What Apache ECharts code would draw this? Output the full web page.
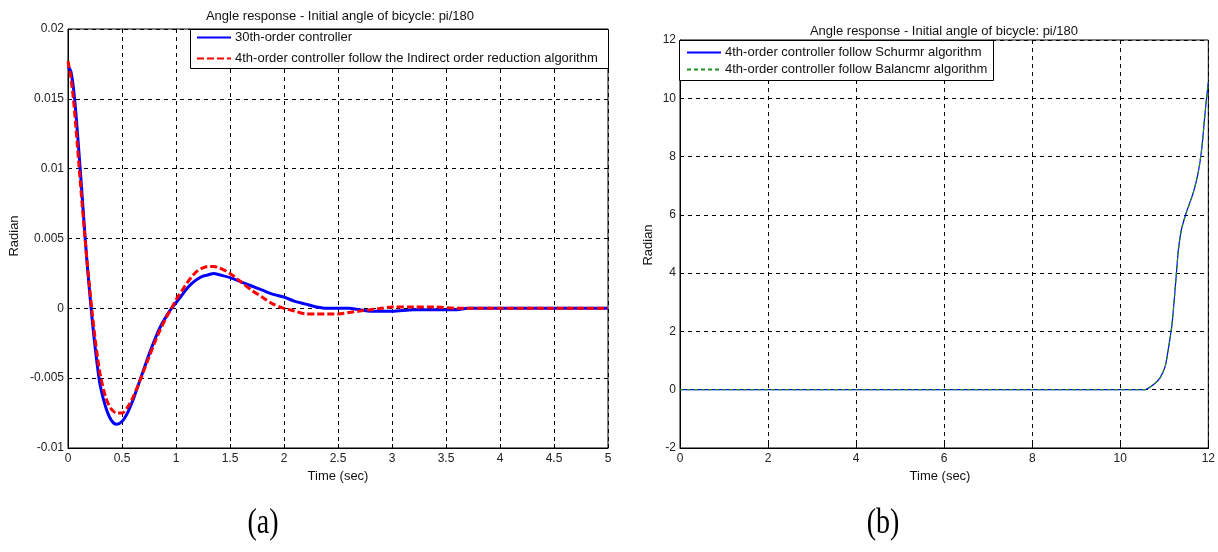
<!DOCTYPE html>
<html>
<head>
<meta charset="utf-8">
<script src="https://cdn.jsdelivr.net/npm/echarts@6/dist/echarts.min.js"></script>
<style>
html,body{margin:0;padding:0;background:#fff;}
#c{width:1218px;height:552px;}
</style>
</head>
<body>
<div id="c"></div>
<script>
// ---------- Data (a) ----------
const titleText = 'Angle response - Initial angle of bicycle: pi/180';
const seriesNamesA = ['30th-order controller', '4th-order controller follow the Indirect order reduction algorithm'];
const seriesNamesB = ['4th-order controller follow Schurmr algorithm', '4th-order controller follow Balancmr algorithm'];

const tA = [0,0.025,0.05,0.075,0.1,0.125,0.15,0.175,0.2,0.225,0.25,0.275,0.3,0.35,0.4,0.45,0.5,0.55,0.6,0.65,0.7,0.75,0.8,0.85,0.9,0.95,1.0,1.05,1.1,1.15,1.2,1.25,1.3,1.35,1.4,1.5,1.6,1.7,1.8,1.9,2.0,2.1,2.2,2.3,2.4,2.5,2.6,2.7,2.8,2.9,3.0,3.2,3.4,3.6,3.7,4.0,4.5,5.0];
const blueA = [0.0173,0.0170,0.0158,0.0138,0.0113,0.0087,0.0060,0.0034,0.0012,-0.0009,-0.0027,-0.0043,-0.0056,-0.0071,-0.0080,-0.0083,-0.0081,-0.0075,-0.0066,-0.0055,-0.0044,-0.0033,-0.0023,-0.0014,-0.0007,-0.0001,0.0004,0.0009,0.0014,0.0018,0.0021,0.0023,0.0024,0.0025,0.0024,0.0022,0.0019,0.0016,0.0013,0.0010,0.0008,0.0005,0.0003,0.0001,0.0000,0.0000,0.0000,-0.0001,-0.0002,-0.0002,-0.0002,-0.0001,-0.0001,-0.0001,0,0,0,0];
const redA = [0.0177,0.0166,0.0150,0.0128,0.0104,0.0080,0.0057,0.0035,0.0015,-0.0004,-0.0021,-0.0036,-0.0048,-0.0064,-0.0072,-0.0075,-0.0075,-0.0071,-0.0064,-0.0055,-0.0045,-0.0035,-0.0025,-0.0016,-0.0008,-0.0001,0.0006,0.0012,0.0018,0.0023,0.0027,0.0029,0.0030,0.0030,0.0029,0.0025,0.0019,0.0013,0.0008,0.0003,0.0000,-0.0002,-0.0004,-0.0004,-0.0004,-0.0004,-0.0003,-0.0002,-0.0001,0.0000,0.0001,0.0001,0.0001,0.0000,0,0,0,0];

// ---------- Data (b) ----------
const tB = [0,1,2,3,4,5,6,7,8,9,10,10.56,10.75,10.9,11.02,11.09,11.17,11.22,11.27,11.32,11.39,11.5,11.66,11.77,11.85,11.92,11.96,12];
const blueB = [0,0,0,0,0,0,0,0,0,0,0,0,0.17,0.4,0.8,1.38,2.18,2.98,3.9,4.8,5.5,6.08,6.77,7.45,8.26,9.4,10.0,10.55];
const greenB = [0,0,0,0,0,0,0,0,0,0,0,0,0.17,0.4,0.8,1.38,2.18,2.98,3.9,4.8,5.5,6.08,6.77,7.45,8.26,9.4,10.0,10.55];

const xTicksA = {min:0, max:5, interval:0.5};
const yTicksA = {min:-0.01, max:0.02, interval:0.005};
const xTicksB = {min:0, max:12, interval:2};
const yTicksB = {min:-2, max:12, interval:2};

function pairs(xs, ys){ return xs.map((x,i)=>[x, ys[i]]); }

const FONT = '"Liberation Sans", Arial, sans-serif';
const TXT = 13;
const labelStyle = {color:'#222', fontSize:12, fontFamily:FONT};
const gridLine = {show:true, lineStyle:{color:'#000', type:[4,4], width:1}};

function axis(idx, t, isX){
  return {type:'value', gridIndex:idx, min:t.min, max:t.max, interval:t.interval,
    axisLine:{show:true, onZero:false, lineStyle:{color:'#000', width:1}},
    axisTick:{show:true, inside:true, length:4, lineStyle:{color:'#000'}},
    axisLabel:Object.assign({margin:isX ? 5 : 4}, labelStyle),
    splitLine:gridLine};
}

function legendItem(name, left, centerY){
  return {data:[name], orient:'vertical', left:left, top:centerY - 7, itemWidth:34, itemHeight:14,
    itemStyle:{opacity:0}, selectedMode:false, padding:0, z:10,
    textStyle:{color:'#111', fontSize:TXT, fontFamily:FONT, padding:[0,0,0,-1]}};
}

const chart = echarts.init(document.getElementById('c'), null, {renderer:'canvas'});
chart.setOption({
  backgroundColor:'#fff',
  animation:false,
  grid:[
    {left:68, top:29, width:540, height:419, show:true, borderColor:'#000', borderWidth:1, backgroundColor:'#fff'},
    {left:680, top:40, width:531, height:408, show:true, borderColor:'#000', borderWidth:1, backgroundColor:'#fff'}
  ],
  xAxis:[axis(0,xTicksA,true), axis(1,xTicksB,true)],
  yAxis:[axis(0,yTicksA,false), axis(1,yTicksB,false)],
  legend:[
    legendItem(seriesNamesA[0], 196, 38),
    legendItem(seriesNamesA[1], 196, 59),
    legendItem(seriesNamesB[0], 686, 53),
    legendItem(seriesNamesB[1], 686, 70)
  ],
  series:[
    {name:seriesNamesA[0], type:'line', xAxisIndex:0, yAxisIndex:0, data:pairs(tA,blueA), smooth:0.3, symbol:'none',
     lineStyle:{color:'#0000ff', width:3, type:'solid'}, itemStyle:{color:'#0000ff'}, z:3},
    {name:seriesNamesA[1], type:'line', xAxisIndex:0, yAxisIndex:0, data:pairs(tA,redA), smooth:0.3, symbol:'none',
     lineStyle:{color:'#ff0000', width:3, type:[7,3]}, itemStyle:{color:'#ff0000'}, z:4},
    {name:seriesNamesB[0], type:'line', xAxisIndex:1, yAxisIndex:1, data:pairs(tB,blueB), smooth:0.2, symbol:'none',
     lineStyle:{color:'#0000ff', width:1.2, type:'solid'}, itemStyle:{color:'#0000ff'}, z:3},
    {name:seriesNamesB[1], type:'line', xAxisIndex:1, yAxisIndex:1, data:pairs(tB,greenB), smooth:0.2, symbol:'none',
     lineStyle:{color:'#1f8f1f', width:1.2, type:[4,3]}, itemStyle:{color:'#1f8f1f'}, z:4}
  ],
  graphic:[
    {type:'rect', shape:{x:190.5, y:29.5, width:418, height:39}, style:{fill:'#fff', stroke:'#000', lineWidth:1}, z:8},
    {type:'rect', shape:{x:679.5, y:40.5, width:314, height:40}, style:{fill:'#fff', stroke:'#000', lineWidth:1}, z:8},
    {type:'text', x:340, y:16, style:{text:titleText, font:TXT+'px '+FONT, fill:'#111', textAlign:'center', textVerticalAlign:'middle'}},
    {type:'text', x:944, y:31, style:{text:titleText, font:TXT+'px '+FONT, fill:'#111', textAlign:'center', textVerticalAlign:'middle'}},
    {type:'text', x:338, y:476, style:{text:'Time (sec)', font:TXT+'px '+FONT, fill:'#111', textAlign:'center', textVerticalAlign:'middle'}},
    {type:'text', x:940, y:476, style:{text:'Time (sec)', font:TXT+'px '+FONT, fill:'#111', textAlign:'center', textVerticalAlign:'middle'}},
    {type:'text', x:14, y:236, rotation:Math.PI/2, style:{text:'Radian', font:TXT+'px '+FONT, fill:'#111', textAlign:'center', textVerticalAlign:'middle'}},
    {type:'text', x:648, y:245, rotation:Math.PI/2, style:{text:'Radian', font:TXT+'px '+FONT, fill:'#111', textAlign:'center', textVerticalAlign:'middle'}},
    {type:'text', x:263, y:524, scaleX:0.8, style:{text:'(a)', font:'35px "Liberation Serif", "Times New Roman", serif', fill:'#000', textAlign:'center', textVerticalAlign:'middle'}},
    {type:'text', x:883, y:524, scaleX:0.8, style:{text:'(b)', font:'35px "Liberation Serif", "Times New Roman", serif', fill:'#000', textAlign:'center', textVerticalAlign:'middle'}}
  ]
});
</script>
</body>
</html>
